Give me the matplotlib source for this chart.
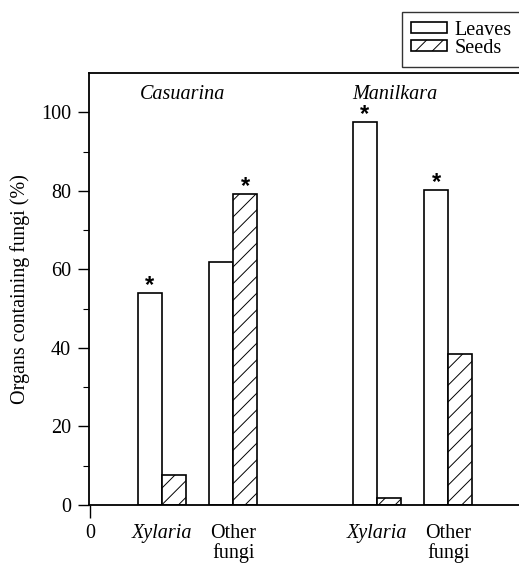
import matplotlib
matplotlib.use("Agg")
import matplotlib.pyplot as plt
import numpy as np

plt.rcParams['font.family'] = ['Liberation Serif', 'DejaVu Serif']
plt.rcParams['hatch.linewidth'] = 0.7

groups = ["Casuarina", "Manilkara"]
categories = ["Xylaria", "Other\nfungi", "Xylaria", "Other\nfungi"]
leaves = [54, 62, 97.4, 80.2]
seeds = [7.6, 79.2, 1.7, 38.5]
# which bar carries the significance asterisk: 'L' = leaves, 'S' = seeds
star_on = ['L', 'S', 'L', 'L']

centers = np.array([3, 6, 12, 15])
width = 1.0

fig = plt.figure(figsize=(5.19, 5.65), dpi=100)
ax = fig.add_axes([89/519, 1 - 505/565, 1 - 89/519, (505 - 73)/565])

ax.bar(centers - width/2, leaves, width, facecolor='white', edgecolor='black',
       linewidth=1.2, label='Leaves')
ax.bar(centers + width/2, seeds, width, facecolor='white', edgecolor='black',
       linewidth=1.2, hatch='//', label='Seeds')

for c, l, s, st in zip(centers, leaves, seeds, star_on):
    if st == 'L':
        x, y = c - width/2, l
    else:
        x, y = c + width/2, s
    ax.text(x, y + 0.3, '*', ha='center', va='baseline', fontsize=17,
            fontweight='bold', family='Liberation Sans')

ax.text(2.1, 104.6, groups[0], fontstyle='italic', fontsize=14.5, va='center', ha='left')
ax.text(11.0, 104.6, groups[1], fontstyle='italic', fontsize=14.5, va='center', ha='left')

ax.set_xlim(-0.04, 17.96)
ax.set_ylim(0, 110)
ax.set_yticks([0, 20, 40, 60, 80, 100])
ax.set_yticks([10, 30, 50, 70, 90], minor=True)
ax.tick_params(axis='y', which='major', length=8, width=1.0, direction='out', labelsize=14.5, pad=5)
ax.tick_params(axis='y', which='minor', length=4, width=0.8, direction='out')

ax.set_xticks([0] + list(centers))
ax.set_xticklabels(['0'] + categories)
ax.tick_params(axis='x', which='major', length=9, width=1.0, direction='out', labelsize=14.5, pad=5)
xt = ax.xaxis.get_major_ticks()
for t in xt[1:]:
    t.tick1line.set_visible(False)
for lab in ax.get_xticklabels():
    if lab.get_text() == 'Xylaria':
        lab.set_fontstyle('italic')
    lab.set_linespacing(0.95)

ax.spines['right'].set_visible(False)
for s in ['left', 'bottom', 'top']:
    ax.spines[s].set_linewidth(1.3)

ax.set_ylabel('Organs containing fungi (%)', fontsize=14.5, labelpad=8)

fig.legend(loc='upper left', bbox_to_anchor=(402/519, 1 - 12/565), frameon=True,
           fancybox=False, edgecolor='black', fontsize=14.5, handlelength=1.8,
           handleheight=0.45, handletextpad=0.35, borderpad=0.45, labelspacing=-0.07,
           borderaxespad=0)
leg = fig.legends[0]
leg.get_frame().set_linewidth(1.0)

fig.savefig('out.png', dpi=100)
